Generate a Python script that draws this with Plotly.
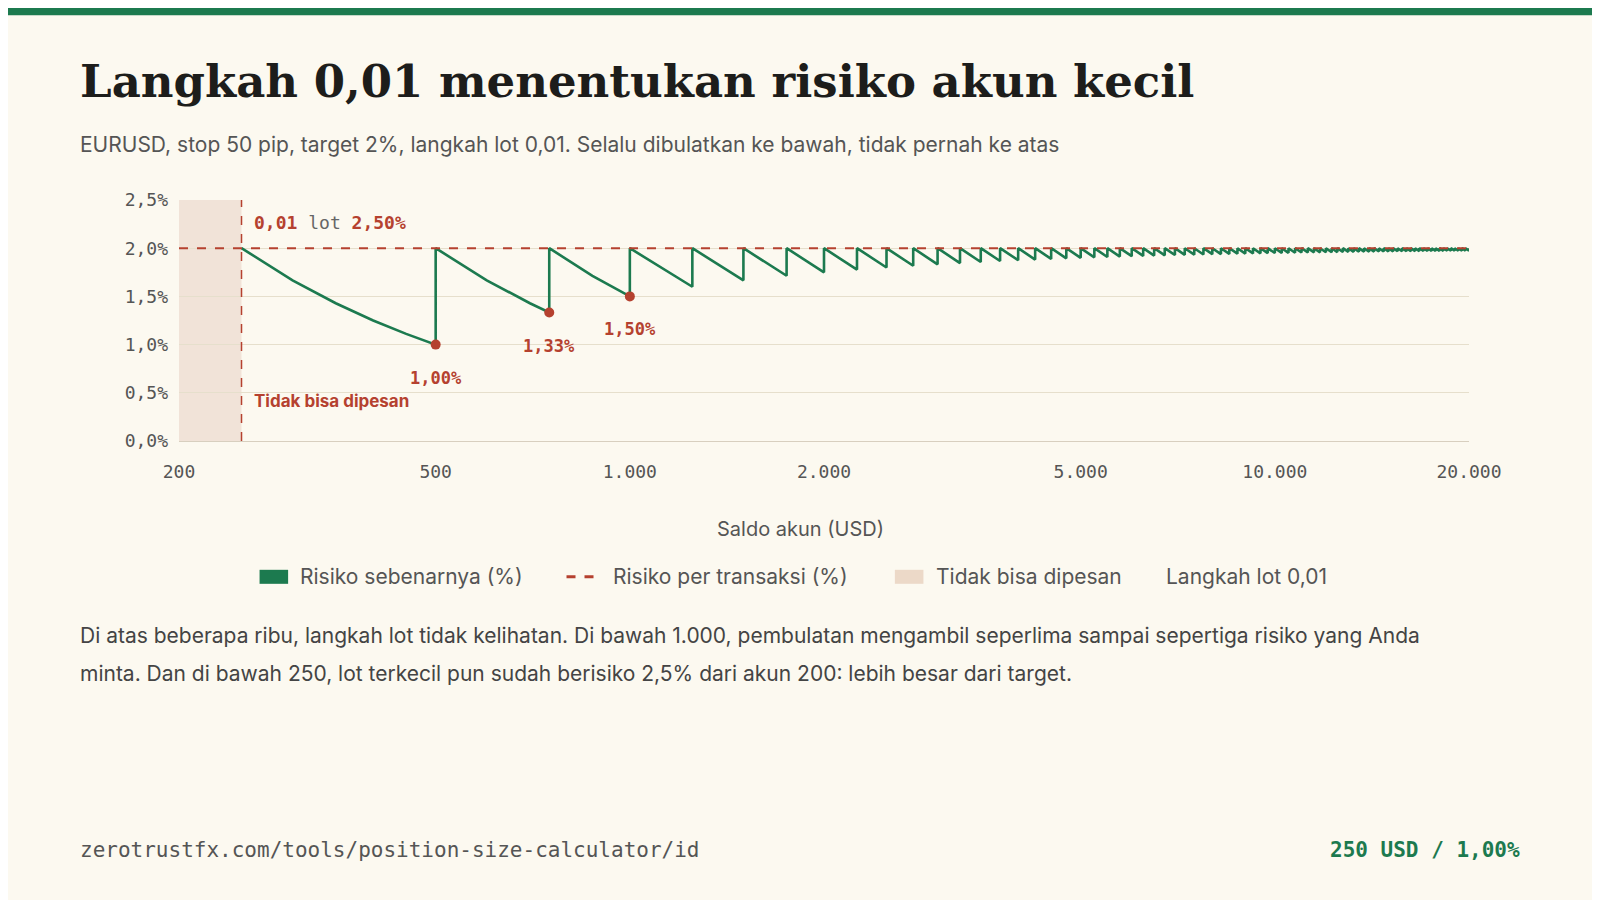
import plotly.graph_objects as go
import math

# ---- data ----
target_pct = 2.0
min_lot_bal = 250
first_tooth_bal = [250, 300, 350, 400, 450, 500]
first_tooth_val = [2.0, 1.667, 1.429, 1.25, 1.111, 1.0]
second_tooth_bal = [500, 600, 700, 750]
second_tooth_val = [2.0, 1.667, 1.429, 1.333]
third_tooth_bal = [750, 875, 1000]
third_tooth_val = [2.0, 1.714, 1.5]
drop_bal = [1250, 1500, 1750, 2000, 2250, 2500, 2750, 3000, 3250, 3500, 3750, 4000, 4250, 4500, 4750, 5000,
            5250, 5500, 5750, 6000, 6250, 6500, 6750, 7000, 7250, 7500, 7750, 8000, 8250, 8500, 8750, 9000,
            9250, 9500, 9750, 10000, 10250, 10500, 10750, 11000, 11250, 11500, 11750, 12000, 12250, 12500,
            12750, 13000, 13250, 13500, 13750, 14000, 14250, 14500, 14750, 15000, 15250, 15500, 15750, 16000,
            16250, 16500, 16750, 17000, 17250, 17500, 17750, 18000, 18250, 18500, 18750, 19000, 19250, 19500,
            19750, 20000]
drop_val = [1.6, 1.667, 1.714, 1.75, 1.778, 1.8, 1.818, 1.833, 1.846, 1.857, 1.867, 1.875, 1.882, 1.889, 1.895, 1.9,
            1.905, 1.909, 1.913, 1.917, 1.92, 1.923, 1.926, 1.929, 1.931, 1.933, 1.935, 1.938, 1.939, 1.941, 1.943, 1.944,
            1.946, 1.947, 1.949, 1.95, 1.951, 1.952, 1.953, 1.955, 1.956, 1.957, 1.957, 1.958, 1.959, 1.96,
            1.961, 1.962, 1.962, 1.963, 1.964, 1.964, 1.965, 1.966, 1.966, 1.967, 1.967, 1.968, 1.968, 1.969,
            1.969, 1.97, 1.97, 1.971, 1.971, 1.971, 1.972, 1.972, 1.973, 1.973, 1.973, 1.974, 1.974, 1.974,
            1.975, 1.975]
marked_bal = [500, 750, 1000]
marked_val = [1.0, 1.333, 1.5]
marked_lbl = ["1,00%", "1,33%", "1,50%"]
start_bal, start_val = 200, 2.5
x_ticks = [200, 500, 1000, 2000, 5000, 10000, 20000]
x_tick_lbl = ["200", "500", "1.000", "2.000", "5.000", "10.000", "20.000"]
y_ticks = [0, 0.5, 1.0, 1.5, 2.0, 2.5]
y_tick_lbl = ["0,0%", "0,5%", "1,0%", "1,5%", "2,0%", "2,5%"]

xs = first_tooth_bal + second_tooth_bal + third_tooth_bal
ys = first_tooth_val + second_tooth_val + third_tooth_val
prev = 1000
for b, v in zip(drop_bal, drop_val):
    xs += [prev, b]; ys += [target_pct, v]
    prev = b
xs.append(20000); ys.append(target_pct)

GREEN = "#1c7a4f"; RED = "#b5412f"; BG = "#fcf9f0"; GREY = "#555"
MONO = "DejaVu Sans Mono"; SANS = "Inter"

W, H = 1600, 900
def r(p): return p / 0.98 - 8
L = r(175); T = r(196)
R = W - r(1440); B = H - r(432)
ph = H - T - B; pw = W - L - R
def py(p): return (H - B - r(p)) / ph
def px(p): return (r(p) - L) / pw

fig = go.Figure()
fig.add_vrect(x0=200, x1=min_lot_bal, fillcolor="#f1e3d8", line_width=0, layer="below")
fig.add_trace(go.Scatter(x=xs, y=ys, mode="lines", line=dict(color=GREEN, width=2.6), hoverinfo="skip"))
fig.add_hline(y=target_pct, line=dict(color=RED, width=2, dash="dash"))
fig.add_vline(x=min_lot_bal, line=dict(color=RED, width=1.5, dash="dash"))
fig.add_trace(go.Scatter(x=marked_bal, y=marked_val, mode="markers",
                         marker=dict(color=RED, size=10), cliponaxis=False))
fig.add_trace(go.Scatter(x=[start_bal], y=[start_val], mode="markers",
                         marker=dict(color=RED, size=10), cliponaxis=False))
for b, v, t in zip(marked_bal, marked_val, marked_lbl):
    fig.add_annotation(x=math.log10(b), y=v, text=f"<b>{t}</b>", showarrow=False, yshift=-33,
                       font=dict(family=MONO, size=17, color=RED))

ann = fig.add_annotation
def pa(x, y, text, font, xanchor="left", **kw):
    ann(x=px(x), y=py(y), xref="paper", yref="paper", xanchor=xanchor, yanchor="middle",
        showarrow=False, text=text, font=font, **kw)

pa(247, 218, "<b>0,01</b> <span style='color:#666'>lot</span> <b>2,50%</b>", dict(family=MONO, size=18, color=RED))
pa(247, 393, "<b>Tidak bisa dipesan</b>", dict(family=SANS, size=17, color=RED))
pa(76, 80, "<b>Langkah 0,01 menentukan risiko akun kecil</b>", dict(family="DejaVu Serif", size=45, color="#1d1d1b"))
pa(76, 142, "EURUSD, stop 50 pip, target 2%, langkah lot 0,01. Selalu dibulatkan ke bawah, tidak pernah ke atas",
   dict(family=SANS, size=21, color=GREY))
pa(784, 518, "Saldo akun (USD)", dict(family=SANS, size=20, color=GREY), xanchor="center")
# legend
ly = py(565); dh = 7 / ph
fig.add_shape(type="rect", xref="paper", yref="paper", x0=px(254), x1=px(282), y0=ly - dh, y1=ly + dh,
              fillcolor=GREEN, line_width=0)
pa(292, 565, "Risiko sebenarnya (%)", dict(family=SANS, size=21, color=GREY))
fig.add_shape(type="line", xref="paper", yref="paper", x0=px(555), x1=px(590), y0=ly, y1=ly,
              line=dict(color=RED, width=3, dash="dash"))
pa(599, 565, "Risiko per transaksi (%)", dict(family=SANS, size=21, color=GREY))
fig.add_shape(type="rect", xref="paper", yref="paper", x0=px(877), x1=px(905), y0=ly - dh, y1=ly + dh,
              fillcolor="#ecd9c8", line_width=0)
pa(915, 565, "Tidak bisa dipesan", dict(family=SANS, size=21, color=GREY))
pa(1141, 565, "Langkah lot 0,01", dict(family=SANS, size=21, color=GREY))
pa(76, 622, "Di atas beberapa ribu, langkah lot tidak kelihatan. Di bawah 1.000, pembulatan mengambil seperlima sampai sepertiga risiko yang Anda",
   dict(family=SANS, size=21, color="#444"))
pa(76, 660, "minta. Dan di bawah 250, lot terkecil pun sudah berisiko 2,5% dari akun 200: lebih besar dari target.",
   dict(family=SANS, size=21, color="#444"))
pa(76, 833, "zerotrustfx.com/tools/position-size-calculator/id", dict(family=MONO, size=21, color=GREY))
pa(1492, 833, "<b>250 USD / 1,00%</b>", dict(family=MONO, size=21, color=GREEN), xanchor="right")
fig.add_shape(type="rect", xref="paper", yref="paper", x0=-1, x1=2, y0=py(15), y1=py(-20),
              fillcolor=GREEN, line_width=0)

fig.update_layout(width=W, height=H, margin=dict(l=L, r=R, t=T, b=B), paper_bgcolor=BG, plot_bgcolor=BG,
                  showlegend=False)
fig.update_xaxes(type="log", range=[math.log10(200), math.log10(20000)], tickvals=x_ticks, ticktext=x_tick_lbl,
                 showgrid=False, showline=True, linecolor="#d8cfbf", ticks="",
                 tickfont=dict(family=MONO, size=18, color=GREY), ticklabelstandoff=14, zeroline=False)
fig.update_yaxes(range=[0, 2.5], tickvals=y_ticks, ticktext=y_tick_lbl, gridcolor="#e6dfcc", zeroline=False,
                 tickfont=dict(family=MONO, size=18, color=GREY), ticklabelstandoff=10)
fig.write_html("out.html")
